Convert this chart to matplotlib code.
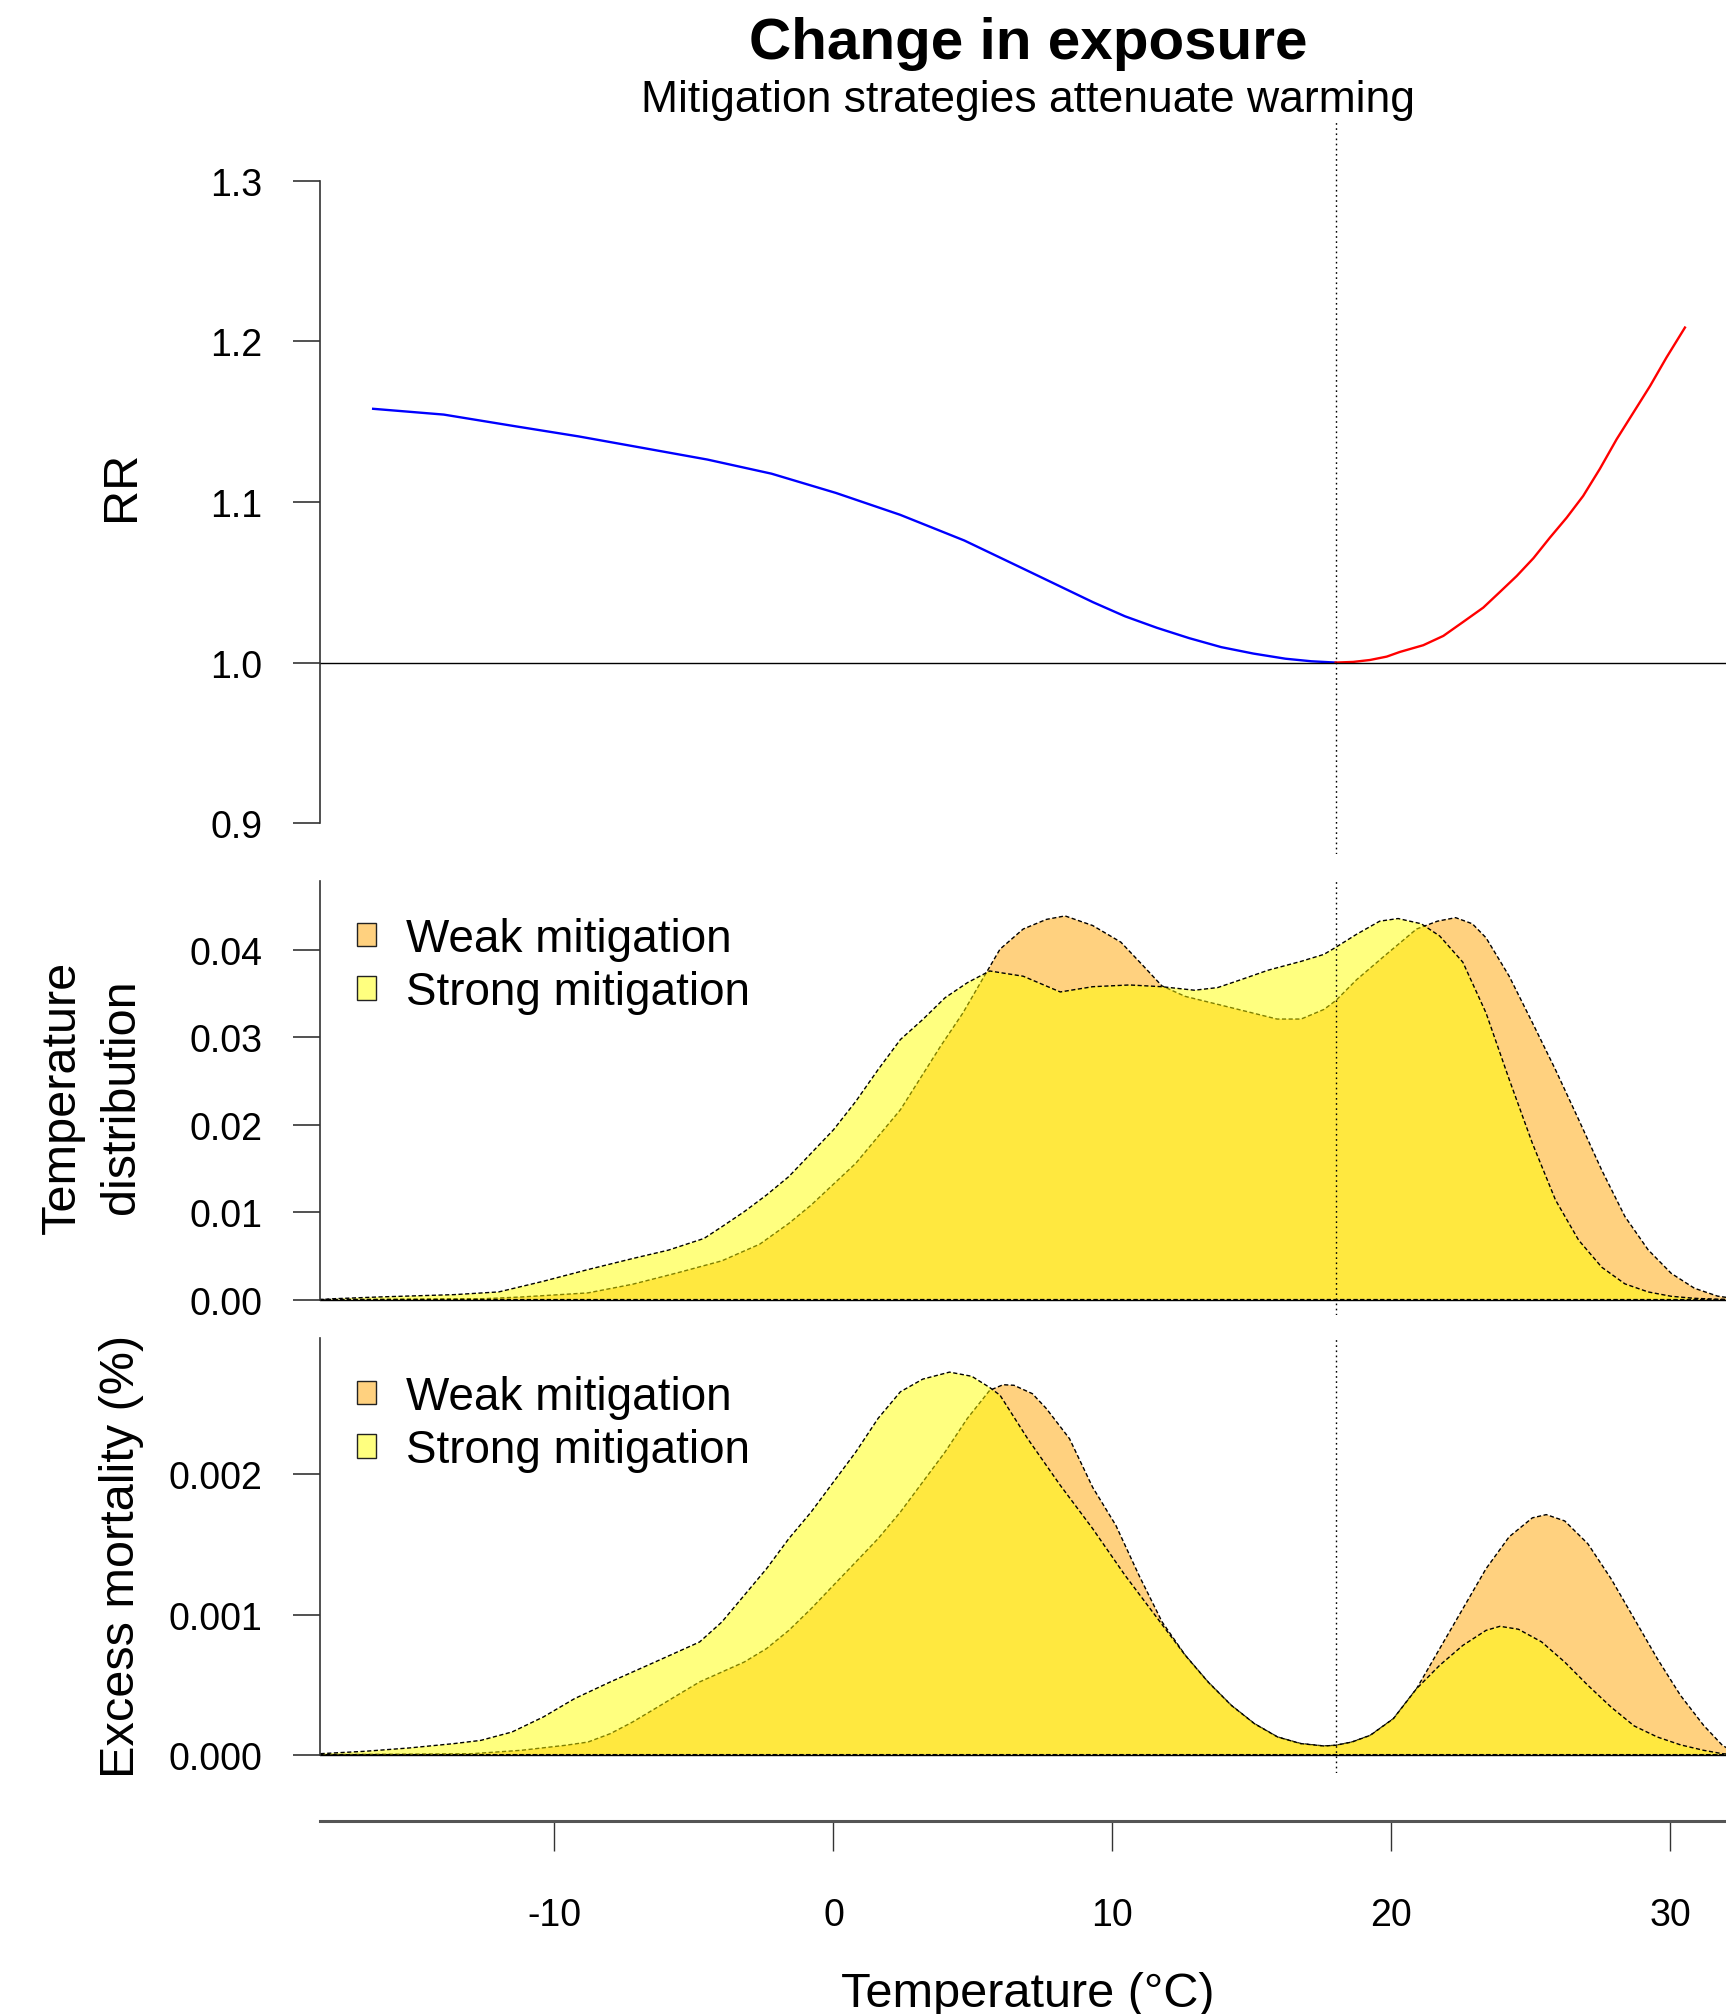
import matplotlib
matplotlib.use("Agg")
import matplotlib.pyplot as plt
from matplotlib.patches import Patch

plt.rcParams['font.family'] = ['Liberation Sans', 'DejaVu Sans']

# ---- data ----
mmt = 18.0

cold_temp = [-16.5, -13.97, -11.43, -9.13, -6.82, -4.52, -2.22, 0.09, 2.39, 4.69, 7.0, 9.3, 10.45,
             11.6, 12.75, 13.9, 15.05, 16.2, 17.13, 18.0]
cold_rr = [1.158, 1.1544, 1.1472, 1.1408, 1.1336, 1.1264, 1.1176, 1.1056, 1.092, 1.076, 1.0568,
           1.0376, 1.0288, 1.0216, 1.0152, 1.0096, 1.0056, 1.0024, 1.0008, 1.000]

heat_temp = [18.0, 18.63, 19.23, 19.83, 20.30, 21.14, 21.86, 22.57, 23.29, 23.89, 24.49, 25.09,
             25.68, 26.28, 26.87, 27.47, 28.07, 28.67, 29.27, 29.86, 30.52]
heat_rr = [1.000, 1.0004, 1.0016, 1.0037, 1.0066, 1.0108, 1.0166, 1.0253, 1.0342, 1.0440, 1.0539,
           1.0650, 1.0778, 1.0902, 1.1037, 1.1206, 1.1390, 1.1556, 1.1722, 1.1900, 1.2086]

# temperature distribution
dist_strong_temp = [-18.4, -17.85, -16.33, -13.6, -12.0, -10.4, -8.8, -7.2, -5.92, -4.64, -4.0, -3.2,
                    -2.4, -1.6, -0.8, 0.0, 0.8, 1.6, 2.4, 3.2, 4.0, 4.8, 5.6, 6.8, 8.13, 9.29, 10.61,
                    11.77, 12.94, 13.77, 14.6, 15.59, 16.76, 17.58, 18.0, 18.75, 19.58, 20.24, 21.07,
                    21.73, 22.56, 23.39, 24.22, 25.05, 25.88, 26.71, 27.54, 28.37, 29.2, 30.03, 30.86,
                    31.69, 32.35]
dist_strong = [0.0, 0.00011, 0.0003, 0.00057, 0.00088, 0.0021, 0.00344, 0.0047, 0.00566, 0.0070,
               0.00834, 0.01006, 0.01197, 0.01408, 0.01675, 0.01943, 0.02268, 0.02632, 0.02976,
               0.03205, 0.03454, 0.03626, 0.0376, 0.0370, 0.0352, 0.0358, 0.0360, 0.0358, 0.0354,
               0.0357, 0.0366, 0.0377, 0.0387, 0.0395, 0.0403, 0.0418, 0.0433, 0.0436, 0.0430,
               0.0416, 0.0386, 0.0328, 0.0252, 0.0179, 0.0114, 0.0068, 0.0037, 0.0018, 0.00088,
               0.00038, 0.00015, 0.00004, 0.0]

dist_weak_temp = [-18.4, -12.48, -11.2, -8.8, -7.2, -5.6, -4.0, -2.64, -1.6, -0.8, 0.8, 2.4, 3.84,
                  4.64, 5.44, 5.97, 6.8, 7.63, 8.3, 9.29, 10.3, 11.1, 11.77, 12.6, 14.26, 15.9, 16.76,
                  17.58, 18.0, 18.75, 19.74, 20.9, 21.65, 22.3, 22.9, 23.39, 24.22, 25.05, 25.88,
                  26.71, 27.54, 28.37, 29.2, 30.03, 30.86, 31.69, 32.35]
dist_weak = [0.0, 0.00011, 0.0003, 0.00077, 0.00176, 0.00306, 0.00444, 0.00635, 0.00872, 0.01082,
             0.0156, 0.02173, 0.0290, 0.0328, 0.0372, 0.0401, 0.0424, 0.0435, 0.0439, 0.0428,
             0.0409, 0.0382, 0.0359, 0.0347, 0.0334, 0.0321, 0.0321, 0.0332, 0.0342, 0.0366,
             0.0393, 0.0424, 0.0433, 0.0437, 0.0430, 0.0414, 0.0370, 0.0317, 0.0263, 0.0206,
             0.0148, 0.0095, 0.0057, 0.0030, 0.0013, 0.0004, 0.0001]

# excess mortality
em_strong_temp = [-18.4, -16.8, -15.2, -13.6, -12.64, -11.52, -10.4, -9.28, -8.0, -6.4, -4.8, -4.0,
                  -3.2, -2.4, -1.6, -0.8, 0.0, 0.8, 1.6, 2.4, 3.2, 4.16, 4.96, 5.6, 5.97, 6.96, 8.13,
                  9.29, 10.45, 11.44, 12.61, 13.43, 14.26, 15.09, 15.92, 16.75, 17.58, 18.0, 18.58,
                  19.24, 20.07, 20.9, 21.73, 22.56, 23.39, 23.89, 24.55, 25.38, 26.21, 27.04, 27.87,
                  28.7, 29.53, 30.36, 31.19, 31.86, 32.35]
em_strong = [0.000007, 0.000024, 0.000048, 0.000079, 0.000102, 0.000162, 0.000269, 0.0004,
             0.000519, 0.000661, 0.000804, 0.000947, 0.001137, 0.001327, 0.001542, 0.001732,
             0.001946, 0.00216, 0.0024, 0.00259, 0.00268, 0.00273, 0.0027, 0.00262, 0.002565,
             0.002255, 0.001922, 0.001613, 0.00128, 0.001018, 0.000709, 0.000518, 0.000352,
             0.000221, 0.000126, 0.000079, 0.000062, 0.000067, 0.00009, 0.000138, 0.000257,
             0.000471, 0.000638, 0.00078, 0.000887, 0.000916, 0.000895, 0.000805, 0.000661,
             0.000495, 0.000340, 0.000205, 0.000126, 0.000070, 0.000031, 0.000007, 0.0]

em_weak_temp = [-18.4, -12.96, -11.2, -9.6, -8.8, -8.0, -7.2, -6.4, -5.6, -4.8, -4.0, -3.2, -2.4,
                -1.6, -0.8, 0.0, 0.8, 1.6, 2.4, 3.2, 4.0, 4.8, 5.6, 6.08, 6.47, 7.13, 7.63, 8.46,
                9.29, 10.12, 10.95, 11.78, 12.61, 13.43, 14.26, 15.09, 15.92, 16.75, 17.58, 18.0,
                18.58, 19.24, 20.07, 20.9, 21.73, 22.56, 23.39, 24.22, 25.05, 25.55, 26.21, 27.04,
                27.87, 28.7, 29.53, 30.36, 31.19, 31.86, 32.35]
em_weak = [0.0, 0.000007, 0.000031, 0.000067, 0.00009, 0.00015, 0.000233, 0.000328, 0.000424,
           0.000519, 0.00059, 0.000661, 0.000757, 0.000887, 0.001042, 0.001209, 0.001375,
           0.001542, 0.001732, 0.001946, 0.00216, 0.0024, 0.0026, 0.00264, 0.002636, 0.002576,
           0.00247, 0.002255, 0.001908, 0.001637, 0.00128, 0.000947, 0.000709, 0.000518,
           0.000352, 0.000221, 0.000126, 0.000079, 0.000062, 0.000067, 0.00009, 0.000138,
           0.000257, 0.000471, 0.000757, 0.001042, 0.001327, 0.001555, 0.001690, 0.001713,
           0.001668, 0.001505, 0.001256, 0.000971, 0.000685, 0.000423, 0.000209, 0.000067, 0.00001]

legend_labels = ['Weak mitigation', 'Strong mitigation']

# ---- layout (pixel based, figure 1726 x 2015) ----
W, H = 1726, 2015
fig = plt.figure(figsize=(W / 100, H / 100), dpi=100)

def box(top, bottom, left=320, right=1736):
    return [left / W, 1 - bottom / H, (right - left) / W, (bottom - top) / H]

xlim = (-18.405, 32.35)
weak_col = (1.0, 0.647, 0.0, 0.5)
strong_col = (1.0, 1.0, 0.0, 0.5)
axcol = '#333333'
edge_kw = dict(edgecolor='black', linestyle=(0, (3, 1.8)), linewidth=1.0)
tick_kw = dict(direction='out', length=19.4, width=1.2, pad=22, labelsize=27, color=axcol)

ax1 = fig.add_axes(box(122, 855))
ax2 = fig.add_axes(box(881.6, 1316))
ax3 = fig.add_axes(box(1339.2, 1773.6))

# top: exposure-response
ax1.plot(cold_temp, cold_rr, color='blue', lw=1.7)
ax1.plot(heat_temp, heat_rr, color='red', lw=1.7)
ax1.axhline(1.0, color='black', lw=1.0)
ax1.set_ylim(0.8808, 1.3372)
ax1.set_yticks([0.9, 1.0, 1.1, 1.2, 1.3])
ax1.set_yticklabels(['0.9', '1.0', '1.1', '1.2', '1.3'])

# middle: temperature distribution
ax2.fill_between(dist_weak_temp, 0, dist_weak, facecolor=weak_col, **edge_kw)
ax2.fill_between(dist_strong_temp, 0, dist_strong, facecolor=strong_col, **edge_kw)
ax2.axhline(0, color='black', lw=1.0)
ax2.set_ylim(-0.00176, 0.04794)
ax2.set_yticks([0.0, 0.01, 0.02, 0.03, 0.04])
ax2.set_yticklabels(['0.00', '0.01', '0.02', '0.03', '0.04'])

# bottom: excess mortality
ax3.fill_between(em_weak_temp, 0, em_weak, facecolor=weak_col, **edge_kw)
ax3.fill_between(em_strong_temp, 0, em_strong, facecolor=strong_col, **edge_kw)
ax3.axhline(0, color='black', lw=1.0)
ax3.set_ylim(-0.000128, 0.002972)
ax3.set_yticks([0.0, 0.001, 0.002])
ax3.set_yticklabels(['0.000', '0.001', '0.002'])

for ax in (ax1, ax2, ax3):
    ax.set_xlim(*xlim)
    ax.axvline(mmt, color='black', lw=1.0, linestyle=(0, (1.2, 2.5)))
    for s in ('top', 'right'):
        ax.spines[s].set_visible(False)
    ax.spines['left'].set_color(axcol)
    ax.spines['left'].set_linewidth(1.2)
    ax.tick_params(axis='y', **tick_kw)
    ax.set_facecolor('none')

ax1.spines['left'].set_bounds(0.9, 1.3)
ax2.spines['left'].set_bounds(0, 0.04794)
ax3.spines['left'].set_bounds(0, 0.002972)
for ax in (ax1, ax2):
    ax.spines['bottom'].set_visible(False)
    ax.set_xticks([])

ax3.spines['bottom'].set_position(('outward', 34.8))
ax3.spines['bottom'].set_color('#555555')
ax3.spines['bottom'].set_linewidth(2.2)
ax3.set_xticks([-10, 0, 10, 20, 30])
ax3.set_xticklabels(['-10', '0', '10', '20', '30'])
ax3.tick_params(axis='x', direction='out', length=21.6, width=1.0, pad=33, labelsize=27, color=axcol)

# legends
handles = [Patch(facecolor=weak_col, edgecolor='#222222', linewidth=1.0),
           Patch(facecolor=strong_col, edgecolor='#222222', linewidth=1.0)]
for ax, ytop in ((ax2, 918), (ax3, 1376)):
    ax.legend(handles, legend_labels, loc='upper left', bbox_to_anchor=(357 / W, 1 - ytop / H),
              bbox_transform=fig.transFigure, frameon=False, fontsize=33, borderpad=0,
              borderaxespad=0, handlelength=0.41, handleheight=0.41, handletextpad=0.66,
              labelspacing=0.2)

# titles and axis labels
fig.text(1028 / W, 1 - 59 / H, 'Change in exposure', ha='center', va='baseline',
         fontsize=42, fontweight='bold')
fig.text(1028 / W, 1 - 112 / H, 'Mitigation strategies attenuate warming', ha='center',
         va='baseline', fontsize=32)
fig.text(1028 / W, 1 - 2007 / H, 'Temperature (°C)', ha='center', va='baseline', fontsize=35)

lab_kw = dict(rotation=90, rotation_mode='anchor', ha='center', va='baseline', fontsize=35)
fig.text(133.6 / W, 1 - 486 / H, 'RR', **lab_kw)
fig.text(74.5 / W, 1 - 1097 / H, 'Temperature', **lab_kw)
fig.text(133.6 / W, 1 - 1097 / H, 'distribution', **lab_kw)
fig.text(133.6 / W, 1 - 1556 / H, 'Excess mortality (%)', **lab_kw)

fig.savefig('out.png', dpi=100)
